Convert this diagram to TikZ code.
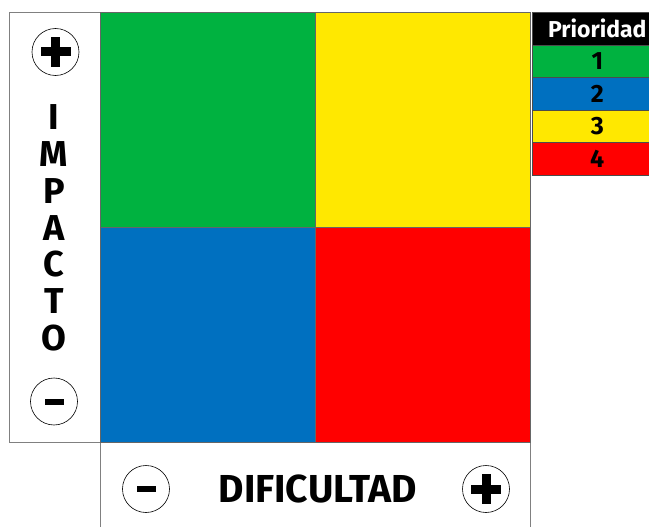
\documentclass[tikz,border=0pt]{standalone}
\usepackage{fontspec}
\setmainfont{Fira Sans}
\usetikzlibrary{positioning}
\definecolor{verde}{RGB}{0,178,64}
\definecolor{amarillo}{RGB}{255,232,0}
\definecolor{azul}{RGB}{0,112,192}
\definecolor{rojo}{RGB}{255,0,0}

\begin{document}
\begin{tikzpicture}[x=1pt, y=-1pt,
		cuadro/.style = {draw=black!60, line width=0.8pt, minimum width=215pt, minimum height=215pt, inner sep=0pt, anchor=north west},
		caja/.style = {draw=gray, line width=0.8pt, inner sep=0pt, anchor=north west},
		signo/.style = {draw, circle, line width=0.6pt, minimum size=47pt, inner sep=0pt},
		mas/.style = {signo, path picture={
			\fill (path picture bounding box.center) +(-15pt,-4.5pt) rectangle +(15pt,4.5pt);
			\fill (path picture bounding box.center) +(-4.5pt,-15pt) rectangle +(4.5pt,15pt);}},
		menos/.style = {signo, path picture={
			\fill (path picture bounding box.center) +(-9.5pt,-3pt) rectangle +(9.5pt,3pt);}},
		letra/.style = {font=\bfseries\fontsize{36}{36}\selectfont, anchor=base, inner sep=0pt},
		fila/.style = {draw=black!70, line width=0.6pt, minimum width=131pt, minimum height=32.6pt, inner sep=0pt, anchor=north west, font=\bfseries\fontsize{25}{25}\selectfont}]
	\useasboundingbox (0,0) rectangle (649,527);
	% ejes
	\node[caja, minimum width=91pt, minimum height=430pt] (impacto) at (9,12) {};
	\node[caja, minimum width=430pt, minimum height=95pt] (dificultad) at (100,442) {};
	% cuadrantes
	\node[cuadro, fill=verde] (q1) at (100,12) {};
	\node[cuadro, fill=amarillo] (q2) at (315,12) {};
	\node[cuadro, fill=azul] (q3) at (100,227) {};
	\node[cuadro, fill=rojo] (q4) at (315,227) {};
	% signos
	\node[mas] (masy) at (55.5,52) {};
	\node[menos] (menosy) at (54,401.5) {};
	\node[menos] (menosx) at (146,489) {};
	\node[mas] (masx) at (486,489) {};
	\foreach \l [count=\i] in {I,M,P,A,C,T,O}
		\node[letra] (l\i) at (54,130+36.7*\i-36.7) {\l};
	\node[letra, font=\bfseries\fontsize{39}{39}\selectfont] (txtx) at (318,502) {DIFICULTAD};
	% prioridad
	\node[fila, fill=black, text=white, font=\bfseries\fontsize{23}{23}\selectfont] (prio) at (531.5,12) {Prioridad};
	\node[fila, fill=verde] (p1) at (531.5,44.6) {1};
	\node[fila, fill=azul] (p2) at (531.5,77.2) {2};
	\node[fila, fill=amarillo] (p3) at (531.5,109.8) {3};
	\node[fila, fill=rojo] (p4) at (531.5,142.4) {4};
\end{tikzpicture}
\end{document}
